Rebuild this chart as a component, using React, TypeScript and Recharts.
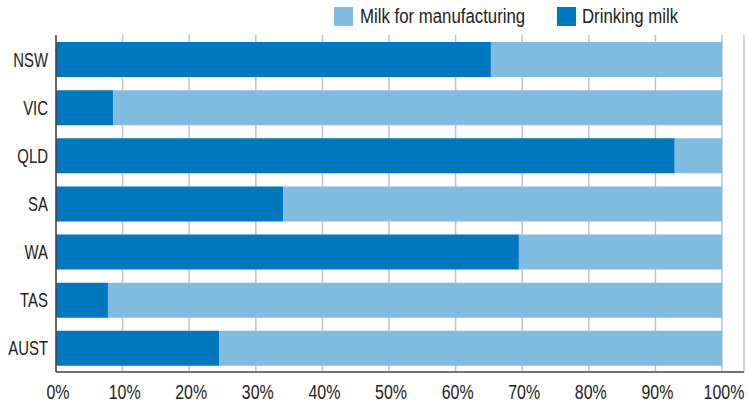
import React from "react";
import { BarChart, Bar, XAxis, YAxis, CartesianGrid } from "recharts";

const categories = ["NSW", "VIC", "QLD", "SA", "WA", "TAS", "AUST"];
const drinkingMilk = [65.3, 8.6, 92.9, 34.1, 69.5, 7.8, 24.5];
const manufacturingMilk = drinkingMilk.map((v) => 100 - v);
const xTicks = [0, 10, 20, 30, 40, 50, 60, 70, 80, 90, 100];

const DARK = "#0077BF";
const LIGHT = "#80BBE0";
const FONT = "'Liberation Sans', Arial, sans-serif";
const FS = 21;
const TEXT = "#222";

const data = categories.map((c, i) => ({
  name: c,
  drinking: drinkingMilk[i],
  manufacturing: manufacturingMilk[i],
}));

const legendItems = [
  { label: "Milk for manufacturing", color: LIGHT, sq: 334, tx: 360 },
  { label: "Drinking milk", color: DARK, sq: 557, tx: 582 },
];

const XTick = (props: any) => {
  const { x, y, payload } = props;
  return (
    <g transform={`translate(${x + 2},${y + 27})`}>
      <text transform="scale(0.76,1)" textAnchor="middle" fill={TEXT} fontSize={FS} fontFamily={FONT}>
        {`${payload.value}%`}
      </text>
    </g>
  );
};

const YTick = (props: any) => {
  const { x, y, payload } = props;
  return (
    <g transform={`translate(${x},${y})`}>
      <text transform="scale(0.71,1)" textAnchor="end" dy="0.36em" fill={TEXT} fontSize={FS} fontFamily={FONT}>
        {payload.value}
      </text>
    </g>
  );
};

export default function App() {
  return (
    <div style={{ position: "fixed", left: 0, top: 0, width: 749, height: 407, background: "#fff" }}>
      <svg width={749} height={35} style={{ position: "absolute", left: 0, top: 0 }}>
        {legendItems.map((it, i) => (
          <g key={i}>
            <rect x={it.sq} y={7} width={19} height={19} fill={it.color} />
            <g transform={`translate(${it.tx},22.5)`}>
              <text transform="scale(0.8,1)" fill={TEXT} fontSize={FS} fontFamily={FONT}>
                {it.label}
              </text>
            </g>
          </g>
        ))}
      </svg>
      <div style={{ position: "absolute", left: 0, top: 0 }}>
        <BarChart
          width={749}
          height={407}
          data={data}
          layout="vertical"
          margin={{ top: 35, right: 5, bottom: 0, left: 0 }}
          barCategoryGap={0}
        >
          <CartesianGrid horizontal={false} vertical stroke="#c4c4c4" strokeWidth={1.5} />
          <XAxis
            type="number"
            domain={[0, 103.3]}
            ticks={xTicks}
            tickLine={false}
            tickSize={0}
            tickMargin={0}
            axisLine={{ stroke: "#444", strokeWidth: 1.5 }}
            height={35}
            allowDataOverflow
            tick={<XTick />}
          />
          <YAxis
            type="category"
            dataKey="name"
            width={56}
            tickLine={false}
            tickSize={0}
            tickMargin={8}
            axisLine={{ stroke: "#444", strokeWidth: 1.5 }}
            tick={<YTick />}
          />
          <Bar dataKey="drinking" stackId="a" fill={DARK} barSize={35} isAnimationActive={false} />
          <Bar dataKey="manufacturing" stackId="a" fill={LIGHT} barSize={35} isAnimationActive={false} />
        </BarChart>
      </div>
    </div>
  );
}
